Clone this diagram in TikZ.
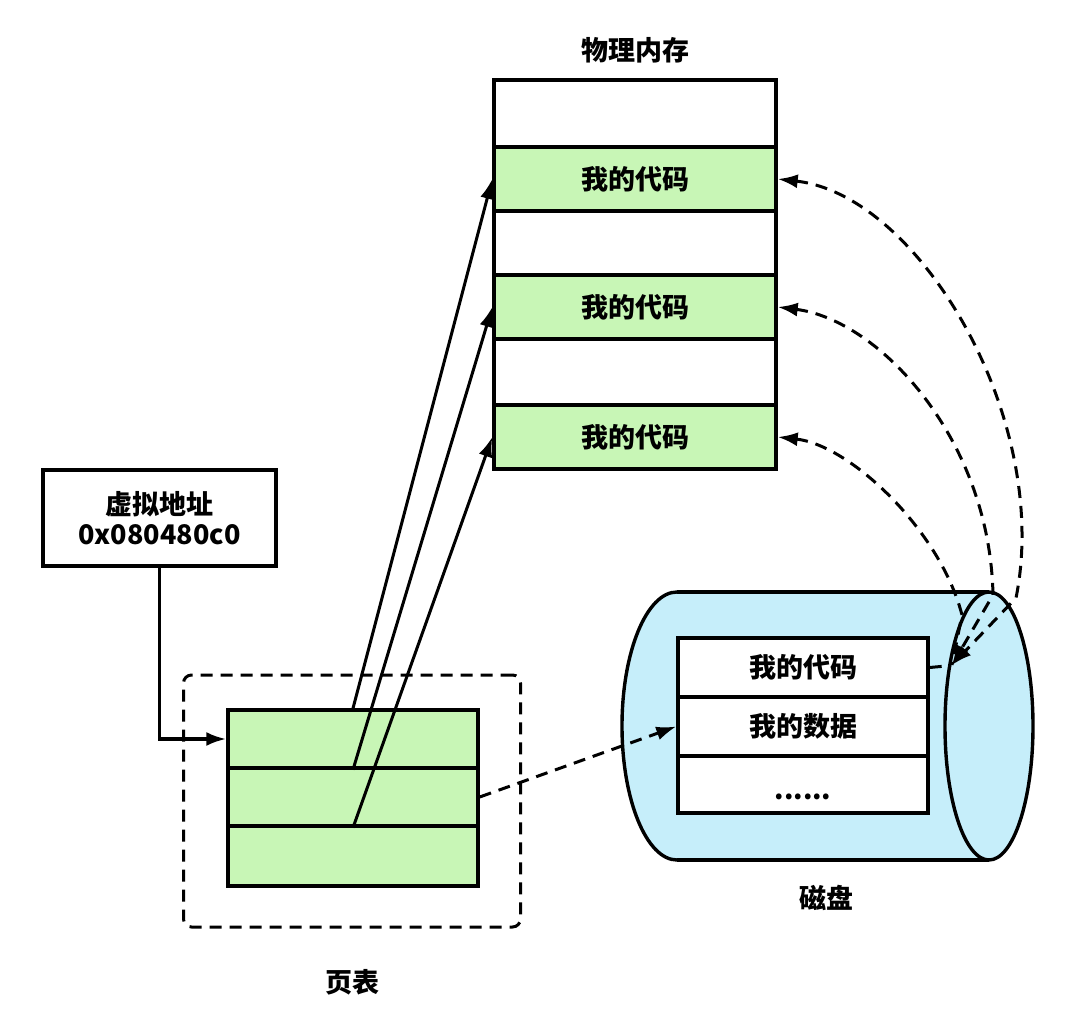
\documentclass[tikz,border=0pt]{standalone}
\usepackage{fontspec}
\setmainfont{Noto Sans CJK SC}
\usetikzlibrary{arrows.meta}
\definecolor{cellgreen}{RGB}{200,246,182}
\definecolor{diskblue}{RGB}{198,238,250}
\begin{document}
\begin{tikzpicture}[x=1pt,y=-1pt,
  lw/.style={line width=3.4pt},
  txt/.style={font=\fontsize{27}{30}\selectfont\bfseries},
  mcell/.style={draw,lw,minimum width=282pt,inner sep=0pt,txt},
  tcell/.style={draw,lw,fill=cellgreen,minimum width=250pt,inner sep=0pt},
  dcell/.style={draw,lw,fill=white,minimum width=250pt,inner sep=0pt,txt},
  tip/.style={-{Latex[length=20pt,width=14pt]}},
  dsh/.style={line width=3pt,dash pattern=on 12pt off 8pt}]
\useasboundingbox (0,0) rectangle (1080,1032);
% physical memory
\node[txt] (memtitle) at (635,50) {物理内存};
\node[mcell,minimum height=67pt] (m0) at (635,113.5) {};
\node[mcell,fill=cellgreen,minimum height=64pt] (m1) at (635,179) {我的代码};
\node[mcell,minimum height=64pt] (m2) at (635,243) {};
\node[mcell,fill=cellgreen,minimum height=64pt] (m3) at (635,307) {我的代码};
\node[mcell,minimum height=66pt] (m4) at (635,372) {};
\node[mcell,fill=cellgreen,minimum height=64pt] (m5) at (635,437) {我的代码};
% virtual address
\node[draw,lw,minimum width=233pt,minimum height=96pt,align=center,txt,inner sep=0pt] (va) at (159.5,518) {虚拟地址\\0x080480c0};
% page table
\node[draw,line width=3pt,dash pattern=on 12pt off 8pt,rounded corners=8pt,minimum width=337pt,minimum height=252pt] (ptbox) at (352,801) {};
\node[tcell,minimum height=58pt] (t1) at (353,739) {};
\node[tcell,minimum height=58pt] (t2) at (353,797) {};
\node[tcell,minimum height=60pt] (t3) at (353,856) {};
\node[txt] (ptlabel) at (352,982) {页表};
% disk
\fill[diskblue] (677,592) -- (989,592) -- (989,860) -- (677,860)
  arc[start angle=270,end angle=90,x radius=55pt,y radius=134pt] -- cycle;
\draw[lw] (677,592) -- (989,592);
\draw[lw] (677,860) -- (989,860);
\draw[lw] (677,592) arc[start angle=90,end angle=270,x radius=55pt,y radius=134pt];
\draw[lw,fill=diskblue] (989,726) ellipse[x radius=44pt,y radius=134pt];
\node[dcell,minimum height=59pt] (d1) at (803,667.5) {我的代码};
\node[dcell,minimum height=59pt] (d2) at (803,726.5) {我的数据};
\node[dcell,minimum height=57pt] (d3) at (803,784.5) {};
\node[txt,anchor=base] (dots) at (803,799) {......};
\node[txt] (disklabel) at (826,898) {磁盘};
% connectors
\draw[lw,tip] (va.south) -- (va.south |- t1.west) -- (t1.west);
\draw[line width=3pt,tip] (t1.north) -- (m1.west);
\draw[line width=3pt,tip] (t1.south) -- (m3.west);
\draw[line width=3pt,tip] (t2.south) -- (m5.west);
\draw[dsh,tip] (t2.east) -- (d2.west);
\coordinate (dk) at (952,665);
\coordinate (dkk) at (946,666);
\draw[dsh] (d1.east) -- (dkk);
\draw[dsh,{Latex[length=20pt,width=14pt]}-{Latex[length=20pt,width=14pt]}] (m1.east) .. controls (920,195) and (1052,420) .. (1016,598) -- (dk);
\draw[dsh,{Latex[length=20pt,width=14pt]}-{Latex[length=20pt,width=14pt]}] (m3.east) .. controls (880,320) and (990,440) .. (993,595) -- (dk);
\draw[dsh,{Latex[length=20pt,width=14pt]}-] (m5.east) .. controls (850,445) and (940,530) .. (962,615) -- (dk);
\end{tikzpicture}
\end{document}
